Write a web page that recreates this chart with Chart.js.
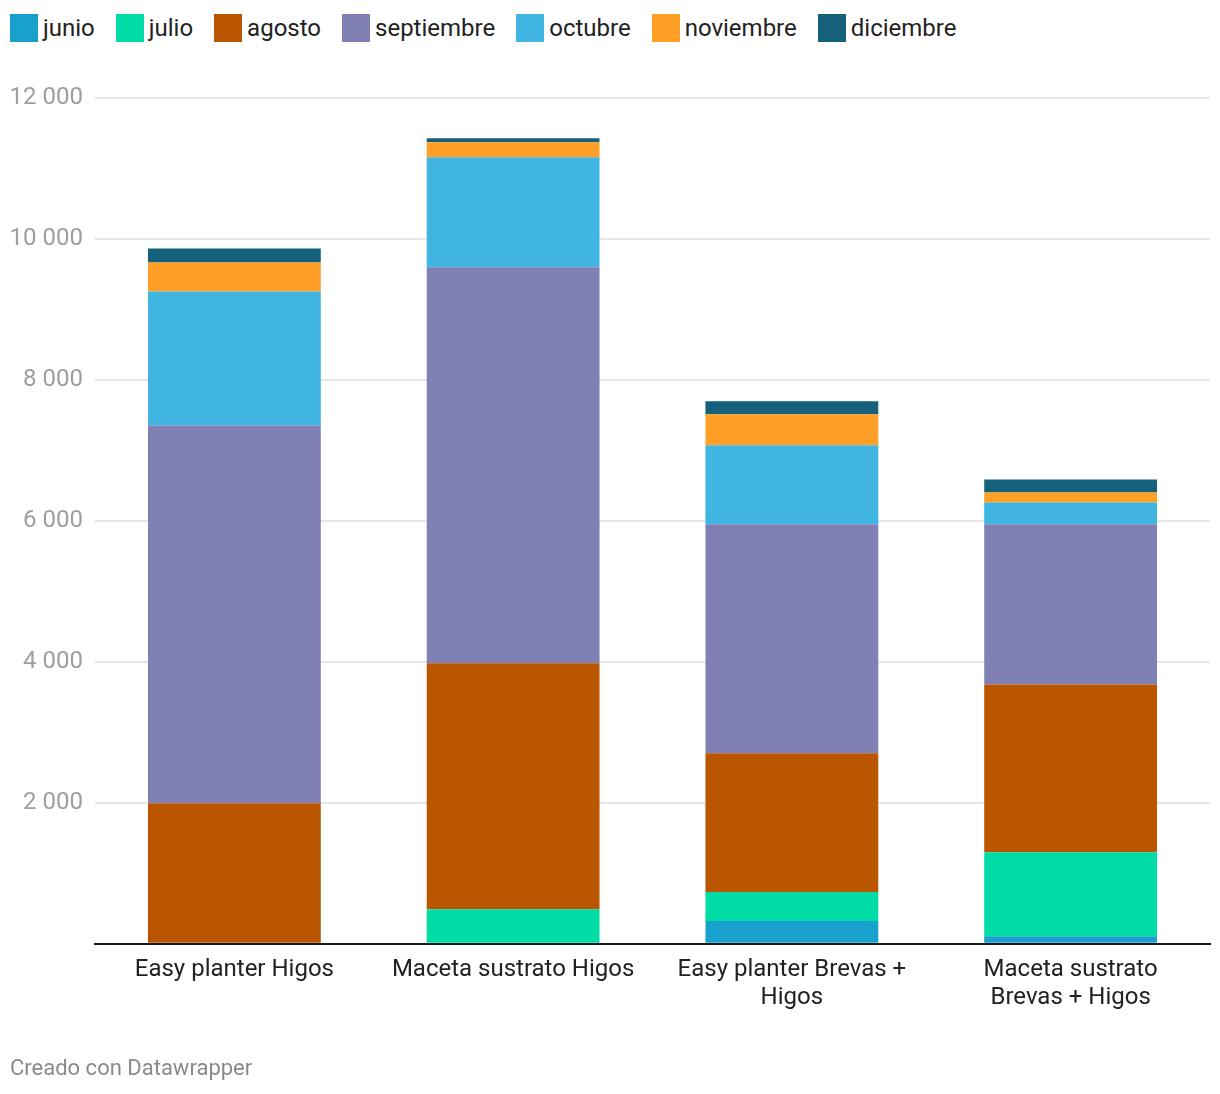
<!DOCTYPE html>
<html>
<head>
<meta charset="utf-8">
<script src="https://cdn.jsdelivr.net/npm/chart.js@4.4.1/dist/chart.umd.min.js"></script>
<style>
  body { margin: 0; background: #fff; font-family: Roboto, sans-serif; }
  #wrap { position: relative; width: 1220px; height: 1094px; }
  #legend { position: absolute; left: 10px; top: 14px; display: flex; font-size: 24px; color: #222; }
  .item { display: flex; align-items: center; margin-right: 21px; height: 28px; }
  .box { width: 28px; height: 28px; margin-right: 5px; }
  #footer { position: absolute; left: 10px; top: 1055px; font-size: 22px; color: #8a8a8a; }
  canvas { position: absolute; left: 0; top: 0; }
</style>
</head>
<body>
<div id="wrap">
  <div id="legend"></div>
  <canvas id="chart" width="1220" height="1094"></canvas>
  <div id="footer">Creado con Datawrapper</div>
</div>
<script>
// data
const categories = [
  ['Easy planter Higos'],
  ['Maceta sustrato Higos'],
  ['Easy planter Brevas +', 'Higos'],
  ['Maceta sustrato', 'Brevas + Higos']
];
const months = ['junio', 'julio', 'agosto', 'septiembre', 'octubre', 'noviembre', 'diciembre'];
const colors = ['#18a1cd', '#00dca6', '#ba5600', '#8080b5', '#40b5e2', '#ff9f26', '#15607a'];

const junio      = [0,    0,    323,  109];
const julio      = [0,    490,  411,  1190];
const agosto     = [1995, 3490, 1970, 2382];
const septiembre = [5360, 5620, 3250, 2270];
const octubre    = [1900, 1560, 1120, 311];
const noviembre  = [410,  213,  440,  142];
const diciembre  = [200,  57,   185,  184];
const series = [junio, julio, agosto, septiembre, octubre, noviembre, diciembre];

const yTicks = [0, 2000, 4000, 6000, 8000, 10000, 12000];

// legend
const legend = document.getElementById('legend');
months.forEach((m, i) => {
  const el = document.createElement('div');
  el.className = 'item';
  el.innerHTML = '<span class="box" style="background:' + colors[i] + '"></span>' + m;
  legend.appendChild(el);
});

new Chart(document.getElementById('chart'), {
  type: 'bar',
  data: {
    labels: categories,
    datasets: months.map((m, i) => ({
      label: m,
      data: series[i],
      backgroundColor: colors[i],
      borderWidth: 0,
      barPercentage: 0.62,
      categoryPercentage: 1
    }))
  },
  options: {
    responsive: false,
    animation: false,
    layout: { padding: { left: 10, right: 10, top: 98, bottom: 70 } },
    plugins: { legend: { display: false }, tooltip: { enabled: false } },
    scales: {
      x: {
        stacked: true,
        grid: { display: false, drawTicks: false },
        border: { color: '#1a1a1a', width: 2 },
        ticks: {
          color: '#222',
          padding: 12,
          font: { family: 'Roboto', size: 24, lineHeight: 1.17 }
        }
      },
      y: {
        stacked: true,
        min: 0,
        max: 12000,
        afterBuildTicks: (axis) => { axis.ticks = yTicks.map(v => ({ value: v })); },
        afterFit: (axis) => { axis.width = 85; },
        grid: {
          color: (ctx) => ctx.tick && ctx.tick.value === 0 ? 'rgba(0,0,0,0)' : '#e6e6e6',
          lineWidth: 2,
          drawTicks: false
        },
        border: { display: false },
        ticks: {
          color: '#9e9e9e',
          padding: 12,
          font: { family: 'Roboto', size: 24 },
          callback: (v) => v === 0 ? '' : String(v).replace(/\B(?=(\d{3})+(?!\d))/g, ' ')
        }
      }
    }
  }
});
</script>
</body>
</html>
